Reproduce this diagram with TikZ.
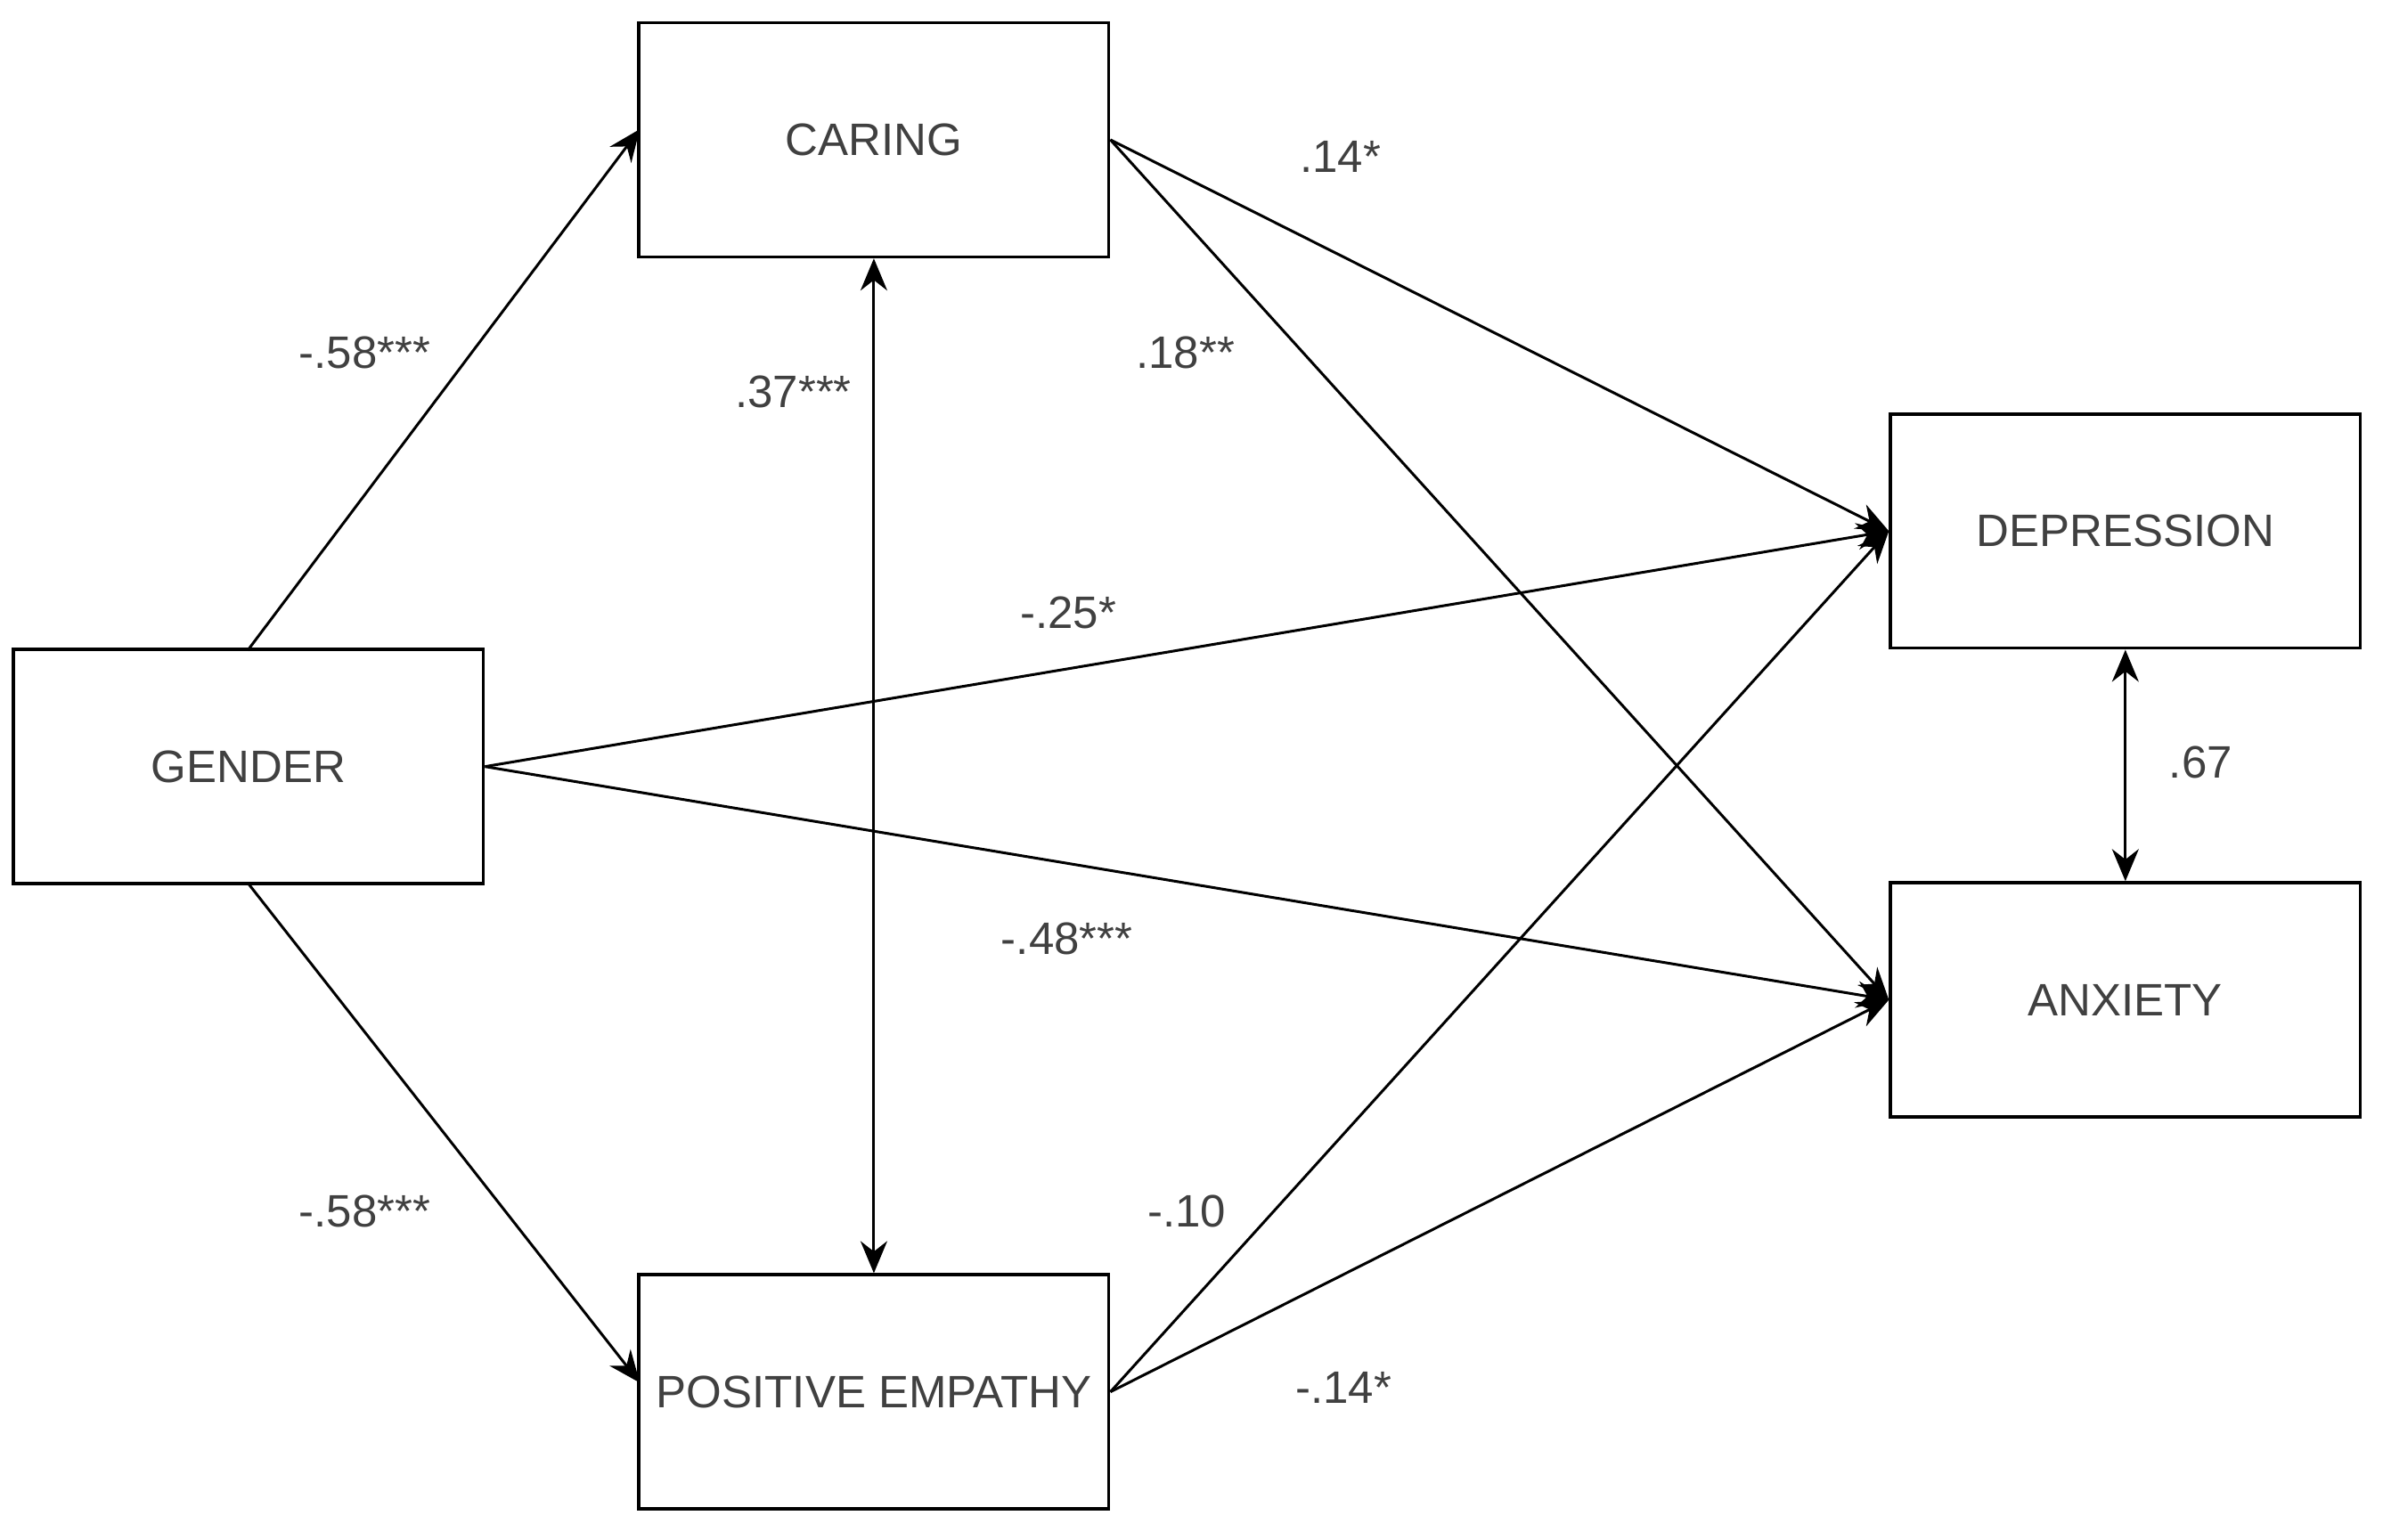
\documentclass[tikz,border=0pt]{standalone}
\usepackage{fontspec}
\setmainfont{Liberation Sans}
\usetikzlibrary{arrows.meta}
\begin{document}
\begin{tikzpicture}[x=0.01cm,y=-0.01cm,
  box/.style={draw,line width=0.6pt,minimum width=3.09cm,minimum height=1.54cm,inner sep=0pt,font=\fontsize{8.5}{10}\selectfont,text=black!75},
  lab/.style={font=\fontsize{8.5}{10}\selectfont,text=black!75},
  arr/.style={line width=0.5pt,-{Stealth[length=6pt,width=5pt]}},
  darr/.style={line width=0.5pt,{Stealth[length=6pt,width=5pt]}-{Stealth[length=6pt,width=5pt]}}]
\useasboundingbox (0,0) rectangle (1568,1013);
\node[box] (car) at (575,92) {CARING};
\node[box] (gen) at (163.5,504.5) {GENDER};
\node[box] (pe) at (575,916) {POSITIVE EMPATHY};
\node[box] (dep) at (1398.5,349.5) {DEPRESSION};
\node[box] (anx) at (1398.5,658) {ANXIETY};
\coordinate (gt) at (163,428);
\coordinate (gb) at (163,581);
\coordinate (cl) at (421,85);
\coordinate (pl) at (421,910);
\draw[arr] (gt) -- (cl);
\draw[arr] (gb) -- (pl);
\draw[arr] (gen.east) -- (dep.west);
\draw[arr] (gen.east) -- (anx.west);
\draw[arr] (car.east) -- (dep.west);
\draw[arr] (car.east) -- (anx.west);
\draw[arr] (pe.east) -- (dep.west);
\draw[arr] (pe.east) -- (anx.west);
\draw[darr] (car.south) -- (pe.north);
\draw[darr] (dep.south) -- (anx.north);
\node[lab] at (240,232) {-.58***};
\node[lab] at (522,258) {.37***};
\node[lab] at (882,103) {.14*};
\node[lab] at (780,232) {.18**};
\node[lab] at (703,403) {-.25*};
\node[lab] at (1448,502) {.67};
\node[lab] at (702,618) {-.48***};
\node[lab] at (240,797) {-.58***};
\node[lab] at (781,797) {-.10};
\node[lab] at (884,913) {-.14*};
\end{tikzpicture}
\end{document}
